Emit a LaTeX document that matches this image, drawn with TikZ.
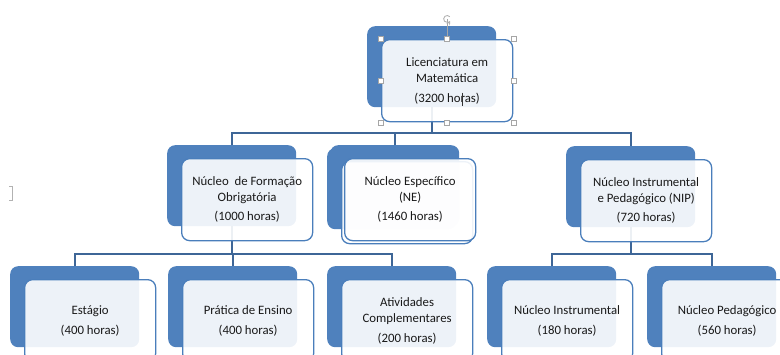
\documentclass[tikz,border=0pt]{standalone}
\usepackage{fontspec}
\setmainfont{Carlito}
\usetikzlibrary{calc}
\definecolor{oblue}{HTML}{4F81BD}
\definecolor{fblue}{HTML}{4A7EBB}
\definecolor{cblue}{HTML}{3E6697}
\tikzset{
  backbox/.style={fill=oblue, draw=none, rounded corners=8pt, minimum width=129pt, minimum height=81pt, inner sep=0pt, anchor=north west},
  frontbox/.style={fill=white, fill opacity=0.9, text opacity=1, draw=fblue, line width=1.3pt, rounded corners=8pt, minimum width=131pt, minimum height=82pt, inner sep=0pt, anchor=north west, align=center, font=\fontsize{12.8}{16}\selectfont, text=black!90},
  conn/.style={draw=cblue, line width=1.8pt},
  handle/.style={draw=gray!70, fill=white, line width=0.5pt, minimum size=5pt, inner sep=0pt},
}
\newcommand{\orgitem}[3]{%
  \node[backbox] (#1-b) at (#2,#3) {};
}
\newcommand{\orgfront}[2]{%
  \node[frontbox] (#1) at ($(#1-b.north west)+(14,13)$) {#2};
}
\begin{document}
\begin{tikzpicture}[x=1pt,y=-1pt]
\useasboundingbox (0,0) rectangle (780,354);
\clip (0,0) rectangle (780,354);
% back boxes
\orgitem{top}{367}{26}
\orgitem{nf}{167}{145}
\node[backbox] (ne2-b) at (327,148) {};
\orgitem{ne}{330}{145}
\orgitem{nip}{566}{146}
\orgitem{est}{10}{266}
\orgitem{pra}{168}{266}
\orgitem{ati}{327}{266}
\orgitem{nin}{487}{266}
\orgitem{nped}{647}{266}
% connectors
\coordinate (j1) at (0,133);
\coordinate (j2) at (0,254);
\draw[conn] (top-b.south) -- (top-b.south |- j1);
\draw[conn] (nf-b.north) -- (nf-b.north |- j1) -- (nip-b.north |- j1) -- (nip-b.north);
\draw[conn] (ne-b.north) -- (ne-b.north |- j1);
\draw[conn] (nf-b.south) -- (nf-b.south |- j2);
\draw[conn] (est-b.north) -- (est-b.north |- j2) -- (ati-b.north |- j2) -- (ati-b.north);
\draw[conn] (pra-b.north) -- (pra-b.north |- j2);
\draw[conn] (nip-b.south) -- (nip-b.south |- j2);
\draw[conn] (nin-b.north) -- (nin-b.north |- j2) -- (nped-b.north |- j2) -- (nped-b.north);
% front boxes
\orgfront{top}{Licenciatura em\\Matemática\\[4pt](3200 horas)}
\orgfront{nf}{Núcleo\ \ de Formação\\Obrigatória\\[3pt](1000 horas)}
\node[frontbox] (ne2) at ($(ne2-b.north west)+(14,13)$) {};
\orgfront{ne}{Núcleo Específico\\(NE)\\[3pt](1460 horas)}
\orgfront{nip}{Núcleo Instrumental\\e Pedagógico (NIP)\\[3pt](720 horas)}
\orgfront{est}{Estágio\\[4pt](400 horas)}
\orgfront{pra}{Prática de Ensino\\[4pt](400 horas)}
\orgfront{ati}{Atividades\\Complementares\\[4pt](200 horas)}
\orgfront{nin}{Núcleo Instrumental\\[4pt](180 horas)}
\orgfront{nped}{Núcleo Pedagógico\\[4pt](560 horas)}
% selection handles on top box
\coordinate (rot) at ($(top.north)+(0,-20)$);
\draw[gray!70, line width=0.5pt] (rot) -- (top.north);
\draw[gray!60, line width=0.9pt, ->, >=stealth] ($(rot)+(40:3.5pt)$) arc[start angle=40, end angle=330, radius=3.5pt];
\foreach \a in {north west,north,north east,west,east,south west,south,south east}
  \node[handle] at (top.\a) {};
% text cursor
\draw[black!80, line width=0.5pt] ($(top.center)+(15,12)$) -- ++(0,13);
% stray mark at left
\draw[gray!60, line width=0.6pt] (9,186) -- (12,186) -- (12,200) -- (9,200);
\end{tikzpicture}
\end{document}
